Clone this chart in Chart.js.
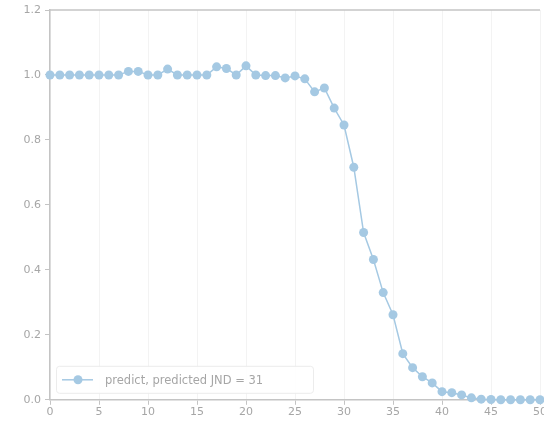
<!DOCTYPE html>
<html>
<head>
<meta charset="utf-8">
<script src="https://cdn.jsdelivr.net/npm/chart.js@4/dist/chart.umd.min.js"></script>
<style>
  html, body { margin: 0; padding: 0; background: #fff; overflow: hidden; }
  body { width: 544px; height: 424px; position: relative; }
  #wrap { position: absolute; left: 0; top: -10px; width: 564px; height: 430px; }
</style>
</head>
<body>
<div id="wrap"><canvas id="jndChart" width="564" height="430"></canvas></div>
<script>
// x positions (frame index) and predicted values
const frames = [0,1,2,3,4,5,6,7,8,9,10,11,12,13,14,15,16,17,18,19,20,21,22,23,24,25,
  26,27,28,29,30,31,32,33,34,35,36,37,38,39,40,41,42,43,44,45,46,47,48,49,50];
const predictValues = [1.0,1.0,1.0,1.0,1.0,1.0,1.0,1.0,1.011,1.011,1.0,1.0,1.018,1.0,1.0,1.0,1.0,
  1.025,1.02,1.0,1.028,1.0,0.998,0.998,0.991,0.997,0.988,0.948,0.96,0.898,0.846,0.716,
  0.515,0.432,0.33,0.262,0.142,0.099,0.071,0.052,0.025,0.022,0.015,0.006,0.002,0.001,
  0.0,0.0,0.0,0.0,0.0];
const seriesLabel = 'predict, predicted JND = 31';
const xTicks = [0,5,10,15,20,25,30,35,40,45,50];
const yTicks = [0.0,0.2,0.4,0.6,0.8,1.0,1.2];

const lineColor = '#a5c9e3';
const textColor = '#a6a6a6';
const axisColor = '#c4c4c4';

// top frame line + legend box inside the plot, bottom-left
const framePlugin = {
  id: 'frameAndLegend',
  afterDraw(chart) {
    const ctx = chart.ctx;
    const area = chart.chartArea;
    ctx.save();
    ctx.strokeStyle = axisColor;
    ctx.lineWidth = 1.5;
    ctx.beginPath();
    ctx.moveTo(area.left, area.top);
    ctx.lineTo(area.right, area.top);
    ctx.stroke();

    // legend
    const bx = area.left + 6, by = area.bottom - 34, bw = 257, bh = 27;
    ctx.fillStyle = 'rgba(255,255,255,0.85)';
    ctx.strokeStyle = '#ececec';
    ctx.lineWidth = 1;
    ctx.beginPath();
    ctx.roundRect(bx + 0.5, by + 0.5, bw, bh, 3);
    ctx.fill();
    ctx.stroke();
    const ly = by + bh / 2 + 0.5;
    ctx.strokeStyle = lineColor;
    ctx.lineWidth = 1.5;
    ctx.beginPath();
    ctx.moveTo(bx + 6, ly);
    ctx.lineTo(bx + 37, ly);
    ctx.stroke();
    ctx.fillStyle = lineColor;
    ctx.beginPath();
    ctx.arc(bx + 22, ly, 4.5, 0, Math.PI * 2);
    ctx.fill();
    ctx.fillStyle = textColor;
    ctx.font = '11.5px "DejaVu Sans"';
    ctx.textBaseline = 'middle';
    ctx.fillText(chart.data.datasets[0].label, bx + 49, ly + 1);
    ctx.restore();
  }
};

const ctx = document.getElementById('jndChart').getContext('2d');
const jndChart = new Chart(ctx, {
  type: 'line',
  data: {
    datasets: [{
      label: seriesLabel,
      data: frames.map((f, i) => ({ x: f, y: predictValues[i] })),
      borderColor: lineColor,
      backgroundColor: lineColor,
      borderWidth: 1.5,
      pointRadius: 4.5,
      pointHoverRadius: 4.5,
      pointBorderWidth: 0,
      tension: 0
    }]
  },
  options: {
    responsive: false,
    animation: false,
    clip: false,
    layout: { padding: { left: 0, right: 24, top: 20, bottom: 0 } },
    plugins: {
      legend: { display: false },
      tooltip: { enabled: false }
    },
    scales: {
      x: {
        type: 'linear',
        min: 0,
        max: 50,
        afterBuildTicks(scale) { scale.ticks = xTicks.map(v => ({ value: v })); },
        ticks: {
          color: textColor,
          font: { family: 'DejaVu Sans', size: 11 },
          padding: 1,
          maxRotation: 0
        },
        grid: { color: '#f3f3f3', lineWidth: 1, tickLength: 5, tickColor: axisColor },
        border: { color: axisColor, width: 1.5 }
      },
      y: {
        min: 0,
        max: 1.2,
        afterBuildTicks(scale) { scale.ticks = yTicks.map(v => ({ value: v })); },
        afterFit(scale) { scale.width = 50; },
        ticks: {
          color: textColor,
          font: { family: 'DejaVu Sans', size: 11 },
          padding: 4,
          callback: v => v.toFixed(1)
        },
        grid: { drawOnChartArea: false, tickLength: 5, tickColor: axisColor },
        border: { color: axisColor, width: 1.5 }
      }
    }
  },
  plugins: [framePlugin]
});
</script>
</body>
</html>
